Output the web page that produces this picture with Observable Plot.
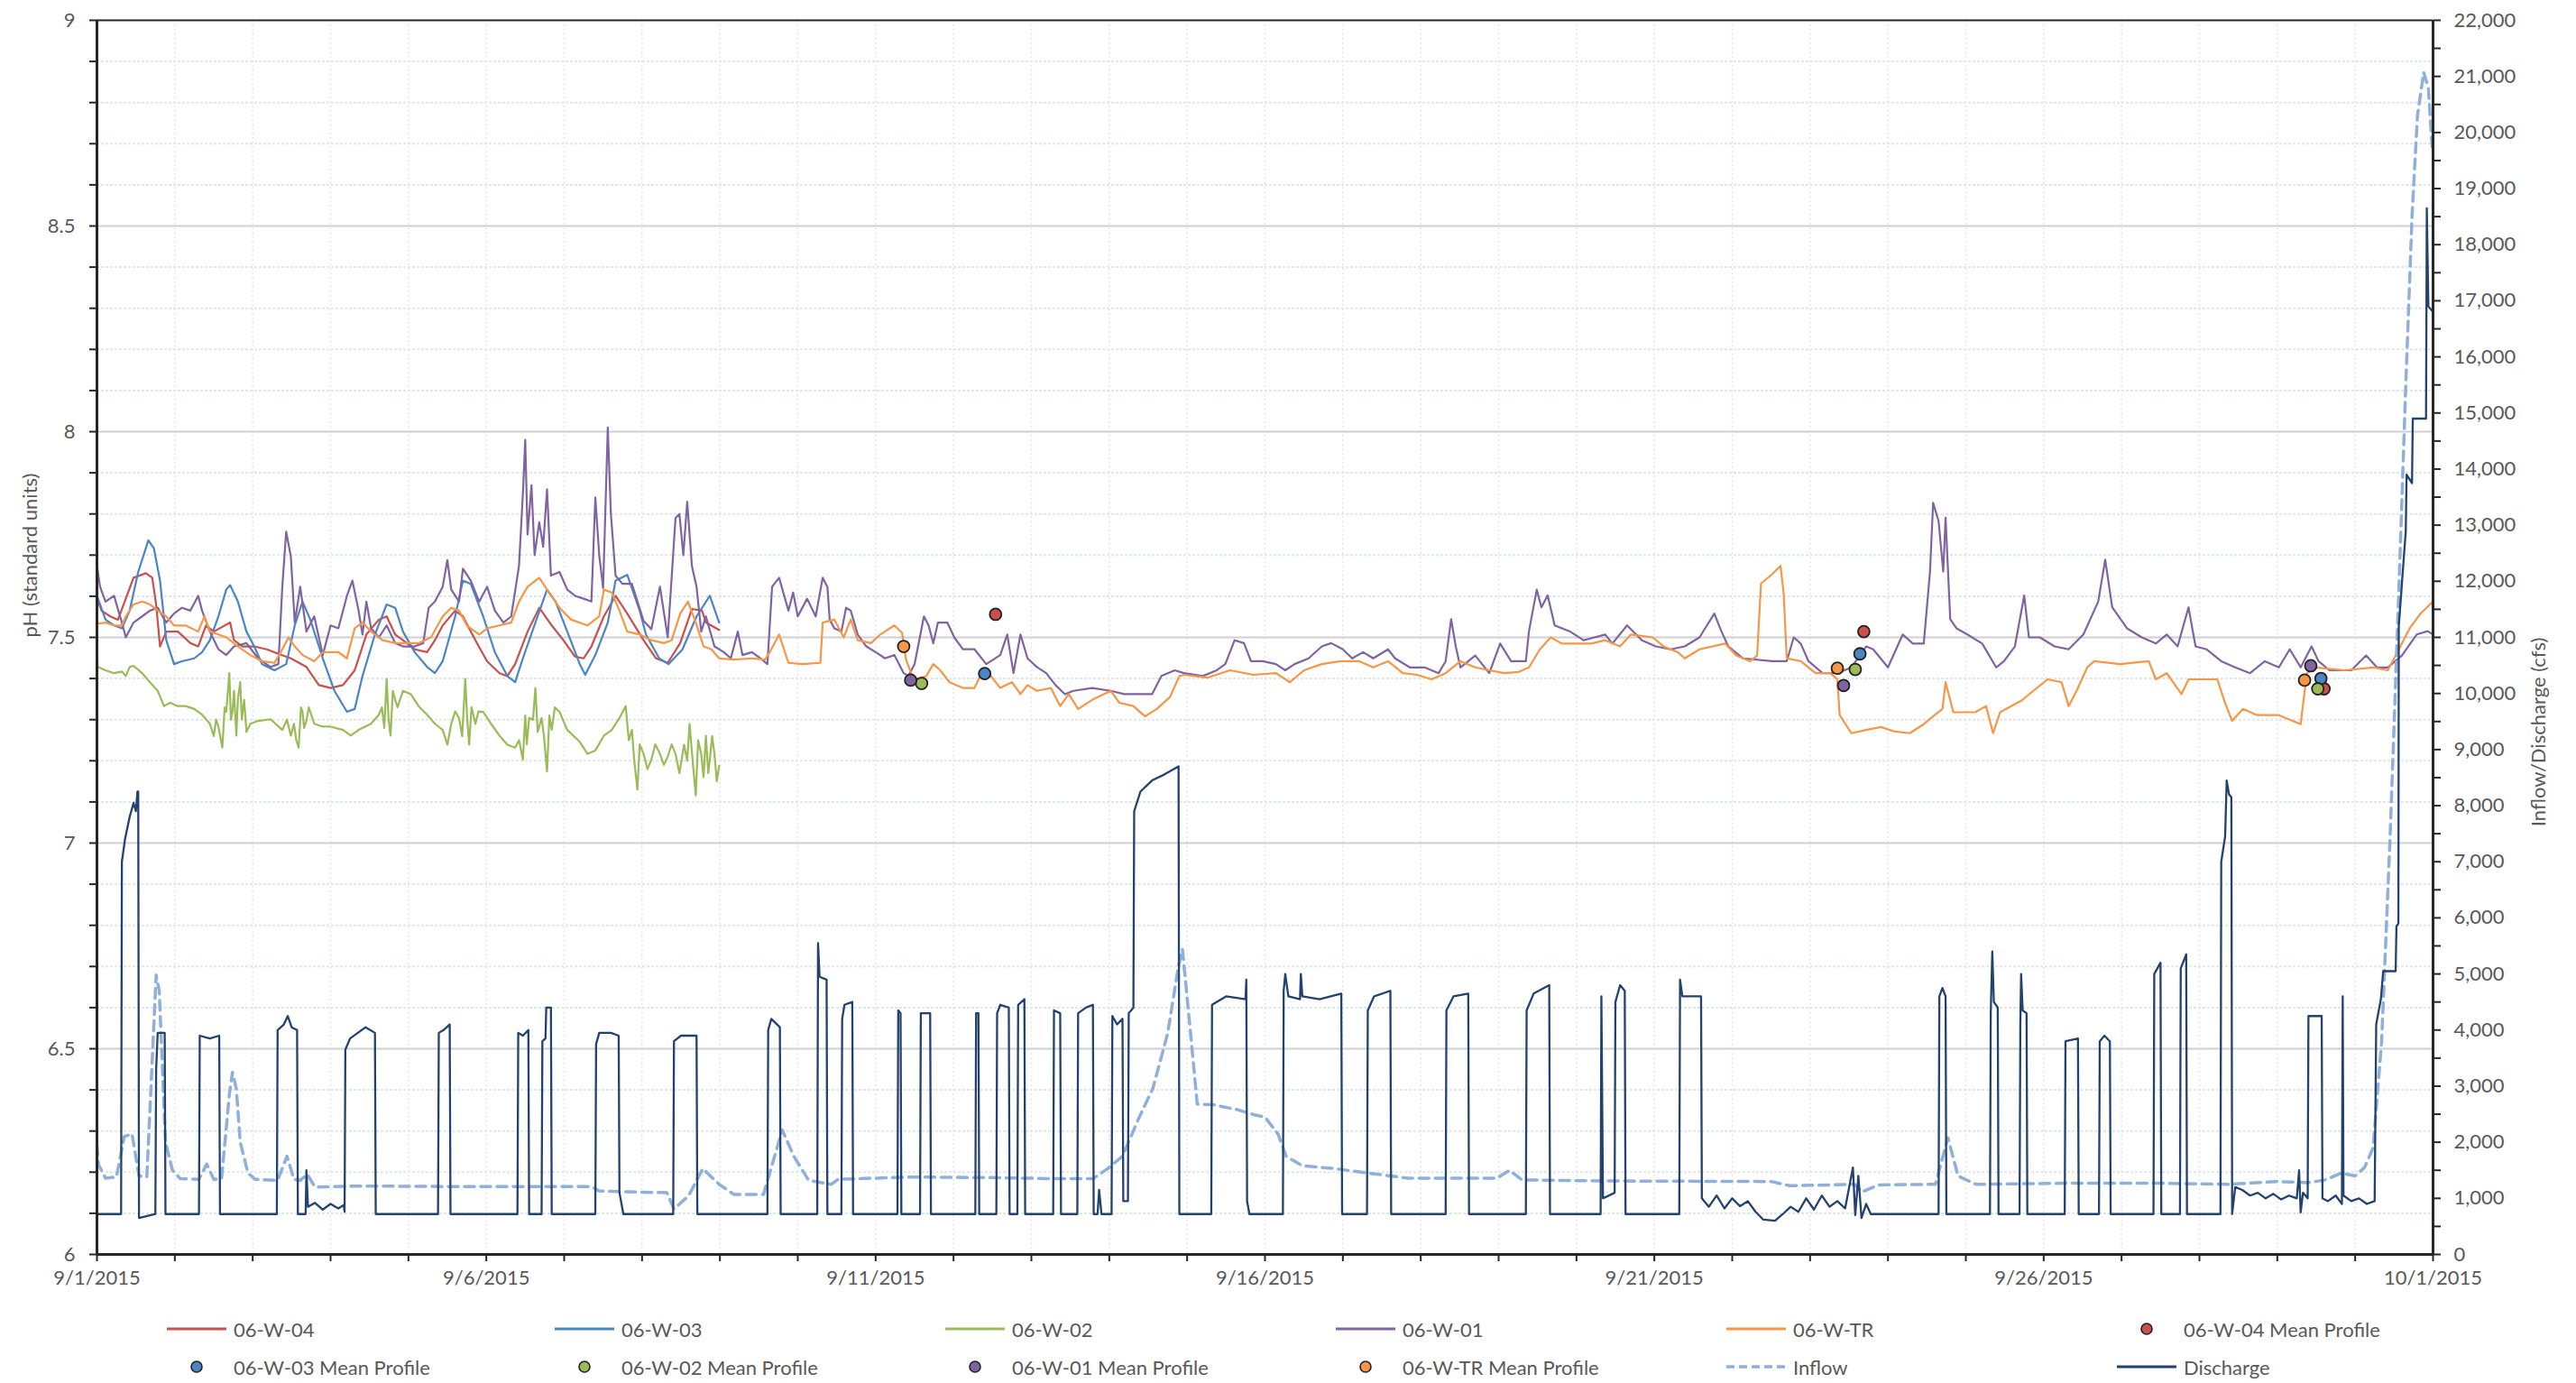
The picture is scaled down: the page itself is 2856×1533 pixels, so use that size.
<!DOCTYPE html>
<html><head><meta charset="utf-8">
<script src="https://cdn.jsdelivr.net/npm/d3@7"></script>
<script src="https://cdn.jsdelivr.net/npm/@observablehq/plot@0.6"></script>
<style>
body{margin:0;background:#fff;font-family:Lato,"Open Sans",sans-serif;}
#chart{position:relative;width:2856px;height:1533px;overflow:hidden;background:#fff;}
#legend{position:absolute;left:0;top:1445px;width:2856px;height:88px;}
.item{position:absolute;display:flex;align-items:center;height:30px;font-size:22px;color:#595959;white-space:nowrap;}
.item svg{margin-right:8px;}
</style></head><body>
<div id="chart"><div id="plot"></div><div id="legend"></div></div>
<script>
// ---------- DATA (day offset since 9/1/2015 00:00, value) ----------
const w04 = [[0,7.594],[0.06,7.565],[0.17,7.551],[0.27,7.543],[0.37,7.594],[0.47,7.645],[0.63,7.656],[0.71,7.645],[0.76,7.58],[0.81,7.478],[0.89,7.514],[1.04,7.514],[1.2,7.486],[1.3,7.478],[1.4,7.529],[1.5,7.514],[1.71,7.536],[1.76,7.493],[1.87,7.478],[2.02,7.478],[2.18,7.471],[2.33,7.46],[2.49,7.449],[2.69,7.428],[2.85,7.384],[3.0,7.377],[3.16,7.384],[3.31,7.42],[3.46,7.507],[3.62,7.543],[3.72,7.551],[3.83,7.507],[3.93,7.493],[4.08,7.471],[4.24,7.464],[4.34,7.493],[4.44,7.529],[4.6,7.565],[4.7,7.551],[4.86,7.493],[5.01,7.442],[5.17,7.413],[5.27,7.406],[5.37,7.435],[5.53,7.514],[5.68,7.572],[5.84,7.529],[5.99,7.493],[6.14,7.453],[6.25,7.449],[6.35,7.478],[6.51,7.551],[6.66,7.601],[6.81,7.558],[7.02,7.493],[7.18,7.449],[7.33,7.438],[7.49,7.486],[7.64,7.569],[7.77,7.565],[7.82,7.536],[7.99,7.518]];
const w03 = [[0,7.601],[0.11,7.543],[0.22,7.529],[0.32,7.522],[0.42,7.565],[0.53,7.659],[0.66,7.736],[0.73,7.717],[0.81,7.638],[0.89,7.493],[0.99,7.435],[1.09,7.442],[1.25,7.449],[1.35,7.464],[1.45,7.493],[1.56,7.551],[1.66,7.616],[1.71,7.627],[1.81,7.587],[1.92,7.514],[2.02,7.478],[2.12,7.435],[2.28,7.42],[2.43,7.435],[2.54,7.529],[2.64,7.587],[2.74,7.543],[2.9,7.449],[3.05,7.37],[3.21,7.319],[3.31,7.326],[3.41,7.406],[3.57,7.507],[3.72,7.58],[3.83,7.572],[3.93,7.514],[4.08,7.464],[4.24,7.428],[4.34,7.413],[4.44,7.442],[4.6,7.551],[4.7,7.638],[4.8,7.63],[4.96,7.551],[5.11,7.464],[5.27,7.406],[5.37,7.391],[5.47,7.449],[5.63,7.536],[5.78,7.616],[5.89,7.587],[6.04,7.514],[6.2,7.435],[6.27,7.409],[6.4,7.457],[6.56,7.536],[6.66,7.638],[6.81,7.652],[6.97,7.565],[7.05,7.507],[7.22,7.449],[7.34,7.435],[7.52,7.471],[7.7,7.551],[7.87,7.601],[7.99,7.536]];
const w02 = [[0,7.464],[0.01,7.428],[0.11,7.42],[0.22,7.413],[0.32,7.417],[0.37,7.406],[0.42,7.428],[0.47,7.431],[0.58,7.413],[0.68,7.391],[0.78,7.37],[0.86,7.333],[0.94,7.341],[1.04,7.333],[1.14,7.333],[1.25,7.326],[1.35,7.312],[1.45,7.29],[1.5,7.26],[1.53,7.3],[1.56,7.283],[1.61,7.232],[1.64,7.33],[1.66,7.319],[1.7,7.413],[1.72,7.3],[1.74,7.319],[1.76,7.37],[1.79,7.261],[1.81,7.35],[1.84,7.391],[1.86,7.3],[1.89,7.348],[1.92,7.27],[1.97,7.29],[2.07,7.297],[2.23,7.301],[2.38,7.275],[2.44,7.3],[2.49,7.261],[2.53,7.29],[2.56,7.25],[2.59,7.232],[2.62,7.33],[2.64,7.319],[2.66,7.28],[2.69,7.297],[2.72,7.33],[2.79,7.29],[2.9,7.283],[3.0,7.283],[3.16,7.275],[3.26,7.261],[3.36,7.275],[3.52,7.29],[3.62,7.312],[3.66,7.33],[3.69,7.28],[3.72,7.399],[3.745,7.3],[3.77,7.261],[3.8,7.37],[3.83,7.348],[3.86,7.33],[3.93,7.37],[4.03,7.362],[4.13,7.333],[4.24,7.312],[4.34,7.29],[4.44,7.275],[4.5,7.239],[4.55,7.29],[4.6,7.32],[4.65,7.304],[4.69,7.26],[4.73,7.399],[4.755,7.3],[4.78,7.239],[4.81,7.33],[4.86,7.29],[4.9,7.32],[4.96,7.319],[5.06,7.29],[5.17,7.261],[5.27,7.239],[5.37,7.232],[5.42,7.25],[5.47,7.203],[5.5,7.31],[5.52,7.24],[5.55,7.304],[5.6,7.3],[5.63,7.377],[5.66,7.27],[5.71,7.304],[5.74,7.26],[5.78,7.174],[5.81,7.31],[5.84,7.275],[5.88,7.33],[5.94,7.319],[6.04,7.275],[6.2,7.246],[6.3,7.217],[6.4,7.225],[6.51,7.261],[6.61,7.275],[6.71,7.304],[6.79,7.333],[6.83,7.25],[6.87,7.275],[6.9,7.2],[6.94,7.13],[6.97,7.24],[7.02,7.217],[7.07,7.18],[7.12,7.203],[7.17,7.24],[7.23,7.217],[7.28,7.19],[7.33,7.21],[7.38,7.24],[7.43,7.217],[7.48,7.17],[7.54,7.239],[7.58,7.2],[7.61,7.29],[7.65,7.2],[7.69,7.116],[7.72,7.25],[7.76,7.217],[7.79,7.16],[7.82,7.261],[7.85,7.17],[7.87,7.203],[7.9,7.26],[7.93,7.217],[7.96,7.15],[7.99,7.188]];
const w01 = [[0,7.674],[0.04,7.623],[0.11,7.587],[0.22,7.601],[0.32,7.536],[0.37,7.5],[0.47,7.536],[0.58,7.551],[0.68,7.565],[0.78,7.572],[0.89,7.536],[0.99,7.558],[1.09,7.572],[1.2,7.565],[1.3,7.601],[1.35,7.565],[1.45,7.514],[1.56,7.471],[1.66,7.457],[1.76,7.478],[1.92,7.486],[2.07,7.449],[2.23,7.428],[2.33,7.435],[2.38,7.623],[2.43,7.757],[2.49,7.696],[2.54,7.536],[2.61,7.623],[2.69,7.514],[2.79,7.551],[2.9,7.457],[3.0,7.529],[3.1,7.522],[3.21,7.601],[3.28,7.638],[3.36,7.565],[3.41,7.507],[3.46,7.587],[3.52,7.522],[3.62,7.5],[3.72,7.529],[3.83,7.486],[3.93,7.478],[4.08,7.478],[4.19,7.486],[4.26,7.572],[4.34,7.587],[4.44,7.623],[4.5,7.688],[4.55,7.616],[4.65,7.587],[4.7,7.667],[4.8,7.638],[4.91,7.587],[5.01,7.623],[5.11,7.565],[5.22,7.536],[5.32,7.551],[5.42,7.674],[5.47,7.85],[5.5,7.98],[5.53,7.75],[5.58,7.87],[5.62,7.7],[5.68,7.78],[5.73,7.72],[5.78,7.86],[5.83,7.65],[5.94,7.659],[6.04,7.616],[6.14,7.601],[6.25,7.594],[6.35,7.587],[6.4,7.84],[6.45,7.7],[6.5,7.62],[6.56,8.01],[6.6,7.8],[6.66,7.65],[6.75,7.63],[6.87,7.63],[6.92,7.6],[7.02,7.54],[7.12,7.52],[7.23,7.623],[7.33,7.5],[7.43,7.79],[7.48,7.8],[7.53,7.7],[7.58,7.83],[7.64,7.674],[7.7,7.623],[7.76,7.514],[7.82,7.551],[7.93,7.478],[8.05,7.464],[8.14,7.449],[8.23,7.514],[8.29,7.457],[8.41,7.464],[8.52,7.449],[8.61,7.435],[8.67,7.623],[8.76,7.645],[8.88,7.565],[8.94,7.609],[9.0,7.551],[9.12,7.594],[9.23,7.551],[9.32,7.645],[9.38,7.623],[9.41,7.543],[9.47,7.522],[9.56,7.514],[9.62,7.572],[9.68,7.565],[9.77,7.507],[9.88,7.478],[10.0,7.464],[10.12,7.449],[10.24,7.457],[10.36,7.413],[10.42,7.406],[10.5,7.435],[10.62,7.551],[10.68,7.529],[10.74,7.486],[10.8,7.536],[10.92,7.536],[11.01,7.5],[11.12,7.471],[11.27,7.471],[11.42,7.435],[11.6,7.457],[11.69,7.507],[11.77,7.413],[11.86,7.507],[11.95,7.449],[12.07,7.428],[12.19,7.413],[12.31,7.384],[12.43,7.362],[12.54,7.37],[12.78,7.377],[13.02,7.37],[13.19,7.362],[13.55,7.362],[13.67,7.406],[13.84,7.42],[13.96,7.413],[14.2,7.406],[14.38,7.42],[14.49,7.435],[14.61,7.493],[14.73,7.486],[14.82,7.442],[14.97,7.442],[15.14,7.435],[15.26,7.42],[15.38,7.435],[15.56,7.449],[15.73,7.478],[15.85,7.486],[16.0,7.471],[16.12,7.449],[16.26,7.464],[16.39,7.449],[16.58,7.471],[16.67,7.449],[16.86,7.427],[17.05,7.427],[17.23,7.413],[17.32,7.442],[17.39,7.544],[17.45,7.478],[17.51,7.427],[17.7,7.456],[17.88,7.413],[18.02,7.485],[18.16,7.442],[18.35,7.442],[18.39,7.515],[18.49,7.616],[18.55,7.573],[18.63,7.602],[18.72,7.529],[18.91,7.515],[19.09,7.493],[19.37,7.507],[19.46,7.485],[19.65,7.529],[19.84,7.493],[20.02,7.478],[20.21,7.471],[20.39,7.478],[20.58,7.5],[20.77,7.558],[20.86,7.515],[20.95,7.478],[21.14,7.449],[21.51,7.442],[21.7,7.442],[21.79,7.5],[21.88,7.485],[21.98,7.442],[22.16,7.413],[22.35,7.413],[22.53,7.427],[22.72,7.478],[22.81,7.471],[23.0,7.427],[23.19,7.507],[23.32,7.485],[23.46,7.485],[23.54,7.66],[23.58,7.827],[23.65,7.783],[23.71,7.66],[23.74,7.791],[23.8,7.544],[23.88,7.522],[24.02,7.507],[24.21,7.485],[24.39,7.427],[24.49,7.442],[24.63,7.478],[24.75,7.602],[24.81,7.5],[24.95,7.5],[25.14,7.478],[25.32,7.471],[25.51,7.507],[25.7,7.587],[25.79,7.689],[25.88,7.573],[26.07,7.522],[26.26,7.5],[26.44,7.485],[26.58,7.507],[26.72,7.478],[26.86,7.573],[26.95,7.478],[27.09,7.471],[27.28,7.442],[27.46,7.427],[27.65,7.413],[27.84,7.442],[28.02,7.427],[28.16,7.471],[28.3,7.427],[28.44,7.478],[28.53,7.442],[28.67,7.42],[28.95,7.42],[29.14,7.456],[29.28,7.427],[29.42,7.427],[29.6,7.456],[29.79,7.507],[29.93,7.515],[30,7.507]];
const wTR = [[0,7.533],[0.11,7.536],[0.22,7.529],[0.32,7.529],[0.37,7.551],[0.47,7.58],[0.58,7.587],[0.68,7.58],[0.78,7.565],[0.89,7.551],[0.99,7.529],[1.14,7.529],[1.3,7.514],[1.38,7.551],[1.45,7.514],[1.56,7.507],[1.66,7.5],[1.81,7.478],[1.97,7.457],[2.12,7.442],[2.28,7.438],[2.38,7.471],[2.46,7.5],[2.54,7.478],[2.64,7.457],[2.79,7.442],[2.9,7.464],[3.1,7.464],[3.21,7.449],[3.31,7.522],[3.41,7.536],[3.52,7.514],[3.67,7.493],[3.83,7.486],[3.98,7.486],[4.13,7.486],[4.29,7.5],[4.44,7.551],[4.55,7.572],[4.65,7.565],[4.75,7.529],[4.91,7.507],[5.01,7.522],[5.17,7.529],[5.32,7.536],[5.42,7.587],[5.53,7.623],[5.68,7.645],[5.78,7.616],[5.94,7.572],[6.09,7.543],[6.3,7.529],[6.45,7.551],[6.51,7.616],[6.61,7.609],[6.71,7.565],[6.81,7.514],[6.97,7.507],[7.12,7.493],[7.28,7.486],[7.38,7.493],[7.49,7.558],[7.59,7.587],[7.69,7.536],[7.79,7.478],[7.89,7.471],[7.99,7.449],[8.17,7.446],[8.41,7.449],[8.58,7.446],[8.64,7.464],[8.76,7.507],[8.88,7.438],[9.06,7.435],[9.29,7.438],[9.32,7.536],[9.47,7.543],[9.59,7.5],[9.68,7.543],[9.77,7.493],[9.94,7.486],[10.06,7.507],[10.24,7.529],[10.34,7.511],[10.39,7.446],[10.47,7.406],[10.53,7.399],[10.65,7.406],[10.74,7.435],[10.83,7.42],[10.95,7.391],[11.12,7.377],[11.27,7.377],[11.36,7.413],[11.48,7.406],[11.6,7.377],[11.75,7.391],[11.86,7.362],[11.95,7.384],[12.07,7.37],[12.25,7.377],[12.37,7.333],[12.48,7.362],[12.6,7.326],[12.78,7.348],[13.02,7.37],[13.13,7.341],[13.31,7.333],[13.46,7.308],[13.61,7.326],[13.78,7.355],[13.9,7.406],[13.96,7.409],[14.26,7.402],[14.55,7.42],[14.85,7.409],[15.14,7.413],[15.32,7.391],[15.5,7.42],[15.73,7.435],[15.97,7.442],[16.21,7.442],[16.39,7.427],[16.58,7.442],[16.77,7.413],[16.95,7.409],[17.14,7.398],[17.32,7.413],[17.51,7.442],[17.7,7.427],[17.88,7.42],[18.07,7.413],[18.26,7.416],[18.39,7.427],[18.53,7.471],[18.67,7.5],[18.81,7.485],[19.19,7.485],[19.37,7.493],[19.56,7.478],[19.7,7.507],[19.98,7.5],[20.12,7.478],[20.3,7.464],[20.39,7.449],[20.58,7.471],[20.91,7.485],[21.05,7.456],[21.23,7.442],[21.32,7.456],[21.37,7.631],[21.51,7.653],[21.62,7.674],[21.66,7.609],[21.7,7.449],[21.88,7.442],[22.07,7.413],[22.26,7.413],[22.35,7.398],[22.38,7.311],[22.53,7.267],[22.72,7.275],[22.91,7.282],[23.09,7.271],[23.28,7.267],[23.46,7.289],[23.6,7.311],[23.7,7.326],[23.74,7.391],[23.84,7.318],[24.12,7.318],[24.26,7.333],[24.35,7.267],[24.44,7.318],[24.72,7.347],[24.86,7.369],[25.05,7.398],[25.23,7.391],[25.32,7.333],[25.42,7.369],[25.56,7.427],[25.65,7.442],[25.98,7.435],[26.35,7.442],[26.44,7.398],[26.58,7.413],[26.77,7.362],[26.86,7.398],[27.23,7.398],[27.33,7.34],[27.42,7.297],[27.56,7.326],[27.74,7.311],[28.02,7.311],[28.3,7.289],[28.38,7.413],[28.49,7.427],[28.86,7.42],[29.23,7.427],[29.42,7.42],[29.6,7.485],[29.7,7.522],[29.84,7.558],[30,7.587]];
const meanW04 = [[11.54,7.556],[22.69,7.514],[28.60,7.375]];
const meanW03 = [[11.40,7.412],[22.64,7.46],[28.56,7.40]];
const meanW02 = [[10.59,7.388],[22.58,7.422],[28.52,7.375]];
const meanW01 = [[10.45,7.396],[22.43,7.383],[28.43,7.431]];
const meanTR = [[10.36,7.478],[22.35,7.425],[28.35,7.396]];
const inflow = [[0,1950],[0.02,1600],[0.11,1360],[0.25,1380],[0.35,2100],[0.45,2150],[0.54,1400],[0.64,1380],[0.69,2850],[0.76,4980],[0.8,4700],[0.88,2000],[0.97,1500],[1.07,1350],[1.31,1340],[1.41,1610],[1.5,1340],[1.6,1350],[1.7,2850],[1.74,3250],[1.79,2950],[1.84,2000],[1.94,1450],[2.03,1340],[2.32,1320],[2.44,1750],[2.53,1340],[2.61,1320],[2.7,1430],[2.8,1200],[3.28,1220],[4.72,1210],[6.35,1210],[6.45,1130],[7.32,1100],[7.41,810],[7.6,1050],[7.78,1530],[7.99,1250],[8.18,1070],[8.56,1070],[8.8,2220],[8.95,1750],[9.14,1320],[9.43,1250],[9.52,1340],[10.48,1380],[11.45,1370],[12.31,1350],[12.79,1350],[12.98,1530],[13.17,1750],[13.37,2400],[13.56,2960],[13.75,3940],[13.89,5150],[13.94,5440],[14.04,4000],[14.13,2680],[14.33,2670],[14.65,2580],[14.86,2490],[15.0,2450],[15.17,2140],[15.27,1750],[15.48,1580],[15.9,1530],[16.32,1450],[16.84,1360],[17.98,1360],[18.14,1500],[18.3,1330],[19.34,1310],[21.5,1300],[21.74,1225],[22.57,1250],[22.67,1115],[22.88,1240],[23.61,1250],[23.77,2080],[23.9,1400],[24.13,1250],[25.27,1270],[26.5,1270],[27.36,1250],[27.99,1300],[28.4,1280],[28.62,1330],[28.82,1450],[29.0,1400],[29.12,1550],[29.23,1900],[29.34,3800],[29.45,7500],[29.56,11800],[29.65,15500],[29.73,18500],[29.8,20300],[29.88,21070],[29.94,20800],[29.99,19700]];
const discharge = [[0,720],[0.31,720],[0.32,7000],[0.36,7400],[0.42,7800],[0.47,8050],[0.5,7900],[0.52,8250],[0.53,8250],[0.54,650],[0.75,720],[0.76,3300],[0.78,3950],[0.87,3950],[0.88,720],[1.31,720],[1.32,3900],[1.45,3850],[1.57,3900],[1.58,720],[2.31,720],[2.32,4000],[2.4,4100],[2.45,4250],[2.5,4050],[2.57,4000],[2.58,720],[2.68,720],[2.69,1500],[2.71,850],[2.8,920],[2.9,800],[3.0,900],[3.1,820],[3.17,880],[3.18,760],[3.19,3650],[3.25,3850],[3.35,3950],[3.45,4050],[3.57,3950],[3.58,720],[4.38,720],[4.39,3950],[4.45,4000],[4.53,4100],[4.54,720],[5.4,720],[5.41,3950],[5.47,3900],[5.54,4000],[5.55,720],[5.71,720],[5.72,3800],[5.76,3850],[5.77,4400],[5.83,4400],[5.84,720],[6.4,720],[6.41,3750],[6.45,3950],[6.6,3950],[6.7,3900],[6.71,1100],[6.76,720],[7.4,720],[7.41,3800],[7.5,3900],[7.7,3900],[7.71,720],[8.61,720],[8.62,4000],[8.66,4200],[8.77,4050],[8.78,720],[9.25,720],[9.26,5550],[9.28,4950],[9.37,4900],[9.38,720],[9.56,720],[9.57,4200],[9.6,4450],[9.7,4500],[9.71,720],[10.28,720],[10.29,4350],[10.32,4300],[10.33,720],[10.57,720],[10.58,4300],[10.7,4300],[10.71,720],[11.28,720],[11.29,4300],[11.32,4300],[11.33,720],[11.55,720],[11.56,4300],[11.6,4450],[11.71,4400],[11.72,720],[11.82,720],[11.83,4450],[11.91,4550],[11.92,720],[12.28,720],[12.29,4350],[12.37,4300],[12.38,720],[12.59,720],[12.6,4300],[12.7,4400],[12.79,4450],[12.8,720],[12.85,720],[12.87,1150],[12.9,720],[13.03,720],[13.04,4250],[13.1,4100],[13.17,4200],[13.18,950],[13.24,950],[13.25,4300],[13.31,4400],[13.32,7900],[13.4,8250],[13.55,8450],[13.7,8550],[13.89,8700],[13.9,720],[14.31,720],[14.32,4450],[14.5,4600],[14.75,4550],[14.76,4900],[14.77,950],[14.8,720],[15.23,720],[15.24,4700],[15.26,5000],[15.3,4600],[15.45,4550],[15.46,5000],[15.48,4600],[15.7,4550],[15.98,4650],[15.99,720],[16.31,720],[16.32,4350],[16.4,4600],[16.61,4700],[16.62,720],[17.32,720],[17.33,4350],[17.42,4600],[17.61,4650],[17.62,720],[18.35,720],[18.36,4350],[18.45,4650],[18.65,4800],[18.66,720],[19.31,720],[19.32,4600],[19.34,1000],[19.49,1100],[19.5,4500],[19.56,4800],[19.62,4700],[19.63,720],[20.32,720],[20.33,4900],[20.36,4600],[20.6,4600],[20.61,1000],[20.7,850],[20.8,1050],[20.9,820],[21.0,1000],[21.1,860],[21.2,950],[21.3,760],[21.4,620],[21.55,600],[21.65,720],[21.75,850],[21.85,760],[21.95,1000],[22.05,800],[22.15,1050],[22.25,850],[22.35,950],[22.45,820],[22.55,1550],[22.58,700],[22.62,1400],[22.66,650],[22.72,900],[22.78,720],[23.65,720],[23.66,4600],[23.7,4750],[23.74,4600],[23.75,720],[24.31,720],[24.32,4300],[24.34,5400],[24.36,4500],[24.41,4400],[24.42,720],[24.69,720],[24.7,4100],[24.71,5000],[24.73,4350],[24.78,4300],[24.79,720],[25.27,720],[25.28,3800],[25.44,3850],[25.45,720],[25.71,720],[25.72,3800],[25.78,3900],[25.85,3800],[25.86,720],[26.41,720],[26.42,5000],[26.5,5200],[26.51,720],[26.75,720],[26.76,5100],[26.83,5350],[26.84,720],[27.27,720],[27.28,7000],[27.33,7450],[27.35,8450],[27.38,8200],[27.41,8150],[27.42,720],[27.46,1200],[27.55,1150],[27.65,1050],[27.75,1100],[27.85,1000],[27.95,1080],[28.05,980],[28.15,1050],[28.25,1000],[28.28,1500],[28.3,750],[28.33,1100],[28.39,1000],[28.4,4250],[28.57,4250],[28.58,1000],[28.65,950],[28.75,1050],[28.83,900],[28.84,4600],[28.85,1050],[28.95,950],[29.05,1000],[29.15,900],[29.25,950],[29.27,4100],[29.33,4550],[29.36,5050],[29.52,5050],[29.53,5850],[29.555,5900],[29.56,11200],[29.65,12900],[29.66,13900],[29.73,13750],[29.74,14900],[29.91,14900],[29.92,18650],[29.94,16900],[30,16800]];
const phLabels = [6, 6.5, 7, 7.5, 8, 8.5, 9];
const flowLabels = [0,1000,2000,3000,4000,5000,6000,7000,8000,9000,10000,11000,12000,13000,14000,15000,16000,17000,18000,19000,20000,21000,22000];
const dateLabelDays = [0, 5, 10, 15, 20, 25, 30];

// ---------- helpers ----------
const DAY = 86400000;
const T0 = Date.UTC(2015, 8, 1);
const toDate = d => new Date(T0 + d * DAY);
const FLOW_MAX = 22000;
const flowToPH = v => 6 + v * 3 / FLOW_MAX;

const C = {
  w04: "#C9504C", w03: "#4A85C6", w02: "#9BBB59", w01: "#8064A2", tr: "#F79646",
  inflow: "#8EB0DA", discharge: "#23426E", axis: "#262626", text: "#595959"
};

const dayTicks = d3.range(0, 31).map(toDate);
const minorY = d3.range(60, 91).map(i => i / 10);
const minorFlow = d3.range(0, 22001, 500).map(flowToPH);

const phLine = (data, color) => Plot.line(data, {x: d => toDate(d[0]), y: d => d[1], stroke: color, strokeWidth: 2.2, curve: "linear"});
const meanDots = (data, color) => Plot.dot(data, {x: d => toDate(d[0]), y: d => d[1], r: 6.5, fill: color, stroke: "#222", strokeWidth: 1.8});

const plot = Plot.plot({
  width: 2856, height: 1445,
  marginLeft: 107, marginRight: 159, marginTop: 22, marginBottom: 55,
  style: {fontFamily: "Lato, 'Open Sans', sans-serif", fontSize: "22px", color: C.axis, background: "#fff", overflow: "visible"},
  x: {type: "utc", domain: [toDate(0), toDate(30)]},
  y: {domain: [6, 9]},
  marks: [
    Plot.ruleX(dayTicks.slice(1, -1), {stroke: "#e6e8e8", strokeDasharray: "2,3", strokeWidth: 1.5}),
    Plot.ruleY(minorY.filter(v => Math.round(v * 10) % 5 !== 0), {stroke: "#e0e7e4", strokeDasharray: "3,2", strokeWidth: 2}),
    Plot.ruleY(phLabels.slice(1, -1), {stroke: "#cfd0d4", strokeWidth: 2}),
    phLine(w04, C.w04),
    phLine(w03, C.w03),
    phLine(w02, C.w02),
    phLine(w01, C.w01),
    phLine(wTR, C.tr),
    Plot.line(inflow, {x: d => toDate(d[0]), y: d => flowToPH(d[1]), stroke: C.inflow, strokeWidth: 3.5, strokeDasharray: "11,7"}),
    Plot.line(discharge, {x: d => toDate(d[0]), y: d => flowToPH(d[1]), stroke: C.discharge, strokeWidth: 2.3}),
    meanDots(meanW04, C.w04),
    meanDots(meanW03, C.w03),
    meanDots(meanW02, C.w02),
    meanDots(meanW01, C.w01),
    meanDots(meanTR, C.tr),
    // frame
    Plot.ruleY([9], {stroke: C.axis, strokeWidth: 2}),
    Plot.ruleY([6], {stroke: C.axis, strokeWidth: 3}),
    Plot.ruleX([toDate(0), toDate(30)], {stroke: C.axis, strokeWidth: 3}),
    // left axis
    Plot.axisY({anchor: "left", ticks: minorY, tickSize: 8, tickFormat: () => "", stroke: C.axis, strokeWidth: 2, label: null}),
    Plot.axisY({anchor: "left", ticks: phLabels, tickSize: 0, tickPadding: 24, tickFormat: v => String(+v.toFixed(1)), fill: C.text, label: null}),
    // right axis
    Plot.axisY({anchor: "right", ticks: minorFlow, tickSize: 8, tickFormat: () => "", stroke: C.axis, strokeWidth: 2, label: null}),
    Plot.axisY({anchor: "right", ticks: flowLabels.map(flowToPH), tickSize: 0, tickPadding: 23, tickFormat: v => d3.format(",")(Math.round((v - 6) * FLOW_MAX / 3)), fill: C.text, label: null}),
    // bottom axis
    Plot.axisX({ticks: dayTicks, tickSize: 8, tickFormat: () => "", stroke: C.axis, strokeWidth: 2, label: null}),
    Plot.axisX({ticks: dateLabelDays.map(toDate), tickSize: 0, tickPadding: 18, tickFormat: d3.utcFormat("%-m/%-d/%Y"), fill: C.text, label: null}),
    // axis titles
    Plot.text(["pH (standard units)"], {frameAnchor: "left", dx: -74, rotate: -90, fill: C.text, fontSize: 22}),
    Plot.text(["Inflow/Discharge (cfs)"], {frameAnchor: "right", dx: 117, rotate: -90, fill: C.text, fontSize: 22})
  ]
});
document.getElementById("plot").appendChild(plot);

// ---------- legend ----------
const legendItems = [
  {name: "06-W-04", type: "line", color: C.w04, col: 0, row: 0},
  {name: "06-W-03", type: "line", color: C.w03, col: 1, row: 0},
  {name: "06-W-02", type: "line", color: C.w02, col: 2, row: 0},
  {name: "06-W-01", type: "line", color: C.w01, col: 3, row: 0},
  {name: "06-W-TR", type: "line", color: C.tr, col: 4, row: 0},
  {name: "06-W-04 Mean Profile", type: "dot", color: C.w04, col: 5, row: 0},
  {name: "06-W-03 Mean Profile", type: "dot", color: C.w03, col: 0, row: 1},
  {name: "06-W-02 Mean Profile", type: "dot", color: C.w02, col: 1, row: 1},
  {name: "06-W-01 Mean Profile", type: "dot", color: C.w01, col: 2, row: 1},
  {name: "06-W-TR Mean Profile", type: "dot", color: C.tr, col: 3, row: 1},
  {name: "Inflow", type: "dash", color: C.inflow, col: 4, row: 1},
  {name: "Discharge", type: "line", color: C.discharge, col: 5, row: 1}
];
const colText = [259, 689, 1122, 1555, 1988, 2421];
const rowY = [28, 70];
const legend = document.getElementById("legend");
for (const it of legendItems) {
  const div = document.createElement("div");
  div.className = "item";
  div.style.left = (colText[it.col] - 74) + "px";
  div.style.top = (rowY[it.row] - 15) + "px";
  let sym;
  if (it.type === "dot") {
    sym = `<svg width="66" height="30"><circle cx="33" cy="15" r="6" fill="${it.color}" stroke="#222" stroke-width="1.6"/></svg>`;
  } else if (it.type === "dash") {
    sym = `<svg width="66" height="30"><line x1="0" x2="66" y1="15" y2="15" stroke="${it.color}" stroke-width="3.5" stroke-dasharray="9,5"/></svg>`;
  } else {
    sym = `<svg width="66" height="30"><line x1="0" x2="66" y1="15" y2="15" stroke="${it.color}" stroke-width="3"/></svg>`;
  }
  div.innerHTML = sym + `<span>${it.name}</span>`;
  legend.appendChild(div);
}
</script>
</body></html>
